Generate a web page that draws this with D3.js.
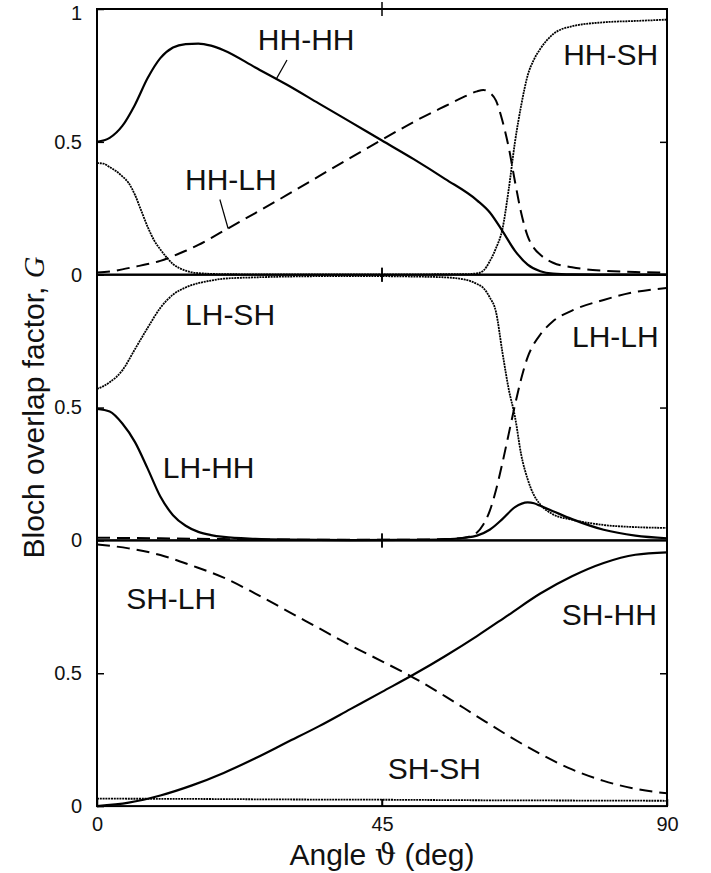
<!DOCTYPE html>
<html>
<head>
<meta charset="utf-8">
<script src="https://cdn.jsdelivr.net/npm/d3@7"></script>
<style>
  body { margin: 0; background: #fff; }
  text { font-family: 'Liberation Sans', Arial, sans-serif; fill: #111; }
</style>
</head>
<body>
<div class="canvas"></div>
<script>
// angle (deg), G
const hhHH = [[0,.50],[2,.515],[4,.56],[6,.64],[8,.74],[10,.815],[12,.855],[14,.868],[16,.87],[18,.862],[20,.845],[25,.78],[30,.715],[35,.645],[40,.575],[45,.505],[50,.435],[55,.36],[60,.28],[62,.235],[64,.165],[66,.09],[68,.038],[70,.013],[72,.004],[75,.001],[80,0],[90,0]];
const hhLH = [[0,.008],[2,.012],[4,.02],[6,.03],[8,.04],[10,.052],[12,.07],[14,.09],[16,.112],[18,.138],[20,.165],[25,.232],[30,.30],[35,.37],[40,.44],[45,.508],[50,.575],[55,.635],[58,.67],[60,.69],[61,.695],[62,.685],[63,.655],[64,.58],[65,.48],[66,.35],[67,.23],[68,.145],[69,.10],[70,.075],[72,.045],[75,.028],[80,.015],[85,.01],[90,.008]];
const hhSH = [[0,.42],[1,.418],[2,.405],[3,.39],[4,.37],[5,.345],[6,.30],[7,.24],[8,.18],[9,.13],[10,.095],[11,.065],[12,.04],[13,.025],[14,.015],[16,.006],[20,.002],[30,.001],[50,.001],[55,.002],[58,.002],[60,.005],[61,.015],[62,.05],[63,.10],[64,.17],[65,.32],[66,.50],[67,.64],[68,.75],[69,.81],[70,.85],[72,.905],[75,.935],[80,.95],[85,.955],[90,.96]];

const lhSH = [[0,.57],[2,.595],[4,.64],[6,.72],[8,.80],[10,.875],[12,.925],[14,.952],[16,.968],[18,.978],[20,.985],[25,.99],[30,.993],[40,.995],[50,.993],[55,.99],[58,.982],[60,.965],[61,.95],[62,.915],[63,.86],[64,.71],[65,.57],[66,.465],[67,.32],[68,.23],[69,.17],[70,.135],[72,.098],[75,.078],[80,.058],[85,.05],[90,.047]];
const lhHH = [[0,.495],[2,.485],[4,.44],[6,.37],[8,.27],[10,.165],[12,.095],[14,.055],[16,.032],[18,.02],[20,.013],[25,.006],[30,.003],[40,.001],[50,.002],[55,.004],[58,.01],[60,.018],[62,.04],[64,.08],[66,.125],[68,.143],[69,.14],[70,.13],[72,.11],[75,.08],[80,.04],[85,.018],[90,.008]];
const lhLH = [[0,.01],[10,.008],[20,.005],[30,.003],[40,.002],[50,.003],[55,.005],[58,.01],[60,.03],[61,.06],[62,.11],[63,.19],[64,.29],[65,.40],[66,.51],[67,.61],[68,.69],[69,.74],[70,.775],[72,.825],[75,.865],[80,.905],[85,.935],[90,.95]];

const shLH = [[0,.985],[5,.97],[10,.945],[15,.905],[20,.86],[25,.80],[30,.735],[35,.67],[40,.605],[45,.545],[50,.483],[55,.413],[60,.338],[65,.264],[70,.196],[75,.138],[80,.095],[85,.065],[90,.048]];
const shHH = [[0,0],[5,.013],[10,.04],[15,.078],[20,.125],[25,.18],[30,.24],[35,.30],[40,.365],[45,.43],[50,.495],[55,.565],[60,.64],[65,.72],[70,.80],[75,.865],[80,.915],[85,.946],[90,.955]];
const shSH = [[0,.028],[15,.027],[30,.025],[45,.024],[60,.022],[75,.021],[90,.02]];

const xTicks = [0, 45, 90];
const yTicksTop = [0, 0.5, 1];
const yTicks = [0, 0.5];

const curveNames = ['HH-HH','HH-LH','HH-SH','LH-SH','LH-HH','LH-LH','SH-LH','SH-HH','SH-SH'];
const curvePanel = [0, 0, 0, 1, 1, 1, 2, 2, 2];
const curveStyle = ['solid','dashed','dotted','dotted','solid','dashed','dashed','solid','dotted'];
const curveData = [hhHH, hhLH, hhSH, lhSH, lhHH, lhLH, shLH, shHH, shSH];
// label anchor (angle, G) in its panel
const labelAt = [[25.4,.845],[13.9,.317],[73.6,.789],[13.9,.811],[10.4,.234],[75,.728],[4.6,.742],[73.4,.682],[45.9,.101]];
// leader strokes from label to curve, top panel
const leaders = [[[30,.808],[28.3,.736]],[[19.4,.283],[20.7,.174]]];

const W = 711, H = 873;
const margin = { top: 9, left: 97 };
const plotW = 570;
const panelH = 265.7;

const svg = d3.select('.canvas').append('svg').attr('width', W).attr('height', H);

const x = d3.scaleLinear().domain([0, 90]).range([margin.left, margin.left + plotW]);
const yScales = [0, 1, 2].map(i =>
  d3.scaleLinear().domain([0, 1]).range([margin.top + (i + 1) * panelH, margin.top + i * panelH]));

const styles = {
  solid: { w: 2.2, dash: null, c: '#000' },
  dashed: { w: 2, dash: '13,7', c: '#000' },
  dotted: { w: 1.8, dash: '2,0.8', c: '#000' }
};

// curves
curveData.forEach((data, i) => {
  const y = yScales[curvePanel[i]];
  const line = d3.line().x(d => x(d[0])).y(d => y(d[1])).curve(d3.curveMonotoneX);
  const st = styles[curveStyle[i]];
  svg.append('path')
    .datum(data)
    .attr('fill', 'none')
    .attr('stroke', st.c)
    .attr('stroke-width', st.w)
    .attr('stroke-dasharray', st.dash)
    .attr('d', line);
});

// panel frames and axes
yScales.forEach((y, i) => {
  const g = svg.append('g');
  const left = d3.axisLeft(y).tickValues(i === 0 ? yTicksTop : yTicks)
    .tickSizeInner(-7).tickSizeOuter(0).tickPadding(15)
    .tickFormat(d => d === 0.5 ? '0.5' : d3.format('d')(d));
  g.append('g').attr('transform', `translate(${margin.left},0)`).call(left);
  const right = d3.axisRight(y).tickValues([0.5]).tickSizeInner(-7).tickSizeOuter(0).tickFormat('');
  g.append('g').attr('transform', `translate(${margin.left + plotW},0)`).call(right);
  g.selectAll('.domain').remove();
  g.selectAll('.tick line').attr('stroke', '#000').attr('stroke-width', 1.5);
  g.selectAll('.tick text').style('font-size', '20px').attr('fill', '#111');
  if (i === 0) g.selectAll('.tick text').filter(d => d === 1).attr('dy', '0.5em');

  g.append('rect')
    .attr('x', margin.left).attr('y', y(1))
    .attr('width', plotW).attr('height', y(0) - y(1))
    .attr('fill', 'none').attr('stroke', '#000').attr('stroke-width', 2);

  // 45 deg tick crossing each boundary
  [y(1), y(0)].forEach(yy => {
    const down = i === 2 && yy === y(0) ? 0 : 7;
    svg.append('line')
      .attr('x1', x(45)).attr('x2', x(45))
      .attr('y1', yy - 7).attr('y2', yy + down)
      .attr('stroke', '#000').attr('stroke-width', 1.5);
  });
});

// bottom x axis
const xAxis = d3.axisBottom(x).tickValues(xTicks).tickSizeInner(-7).tickSizeOuter(0).tickPadding(11);
const xg = svg.append('g').attr('transform', `translate(0,${yScales[2](0)})`).call(xAxis);
xg.select('.domain').remove();
xg.selectAll('.tick line').attr('stroke', '#000').attr('stroke-width', 1.5);
xg.selectAll('.tick text').style('font-size', '20px').attr('fill', '#111');

// curve labels
curveNames.forEach((name, i) => {
  const y = yScales[curvePanel[i]];
  svg.append('text')
    .attr('x', x(labelAt[i][0]))
    .attr('y', y(labelAt[i][1]))
    .style('font-size', '30px')
    .text(name);
});

leaders.forEach(l => {
  svg.append('line')
    .attr('x1', x(l[0][0])).attr('y1', yScales[0](l[0][1]))
    .attr('x2', x(l[1][0])).attr('y2', yScales[0](l[1][1]))
    .attr('stroke', '#000').attr('stroke-width', 1.2);
});

// axis titles
const xt = svg.append('text')
  .attr('x', x(45)).attr('y', 865)
  .attr('text-anchor', 'middle')
  .style('font-size', '30px');
xt.append('tspan').text('Angle ');
xt.append('tspan').style('font-family', "'DejaVu Serif', serif").text('ϑ');
xt.append('tspan').text(' (deg)');

const yt = svg.append('text')
  .attr('transform', `translate(44,${margin.top + 1.5 * panelH}) rotate(-90)`)
  .attr('text-anchor', 'middle')
  .style('font-size', '30px');
yt.append('tspan').text('Bloch overlap factor, ');
yt.append('tspan').style('font-family', "'Liberation Serif', serif").style('font-style', 'italic').text('G');
</script>
</body>
</html>
